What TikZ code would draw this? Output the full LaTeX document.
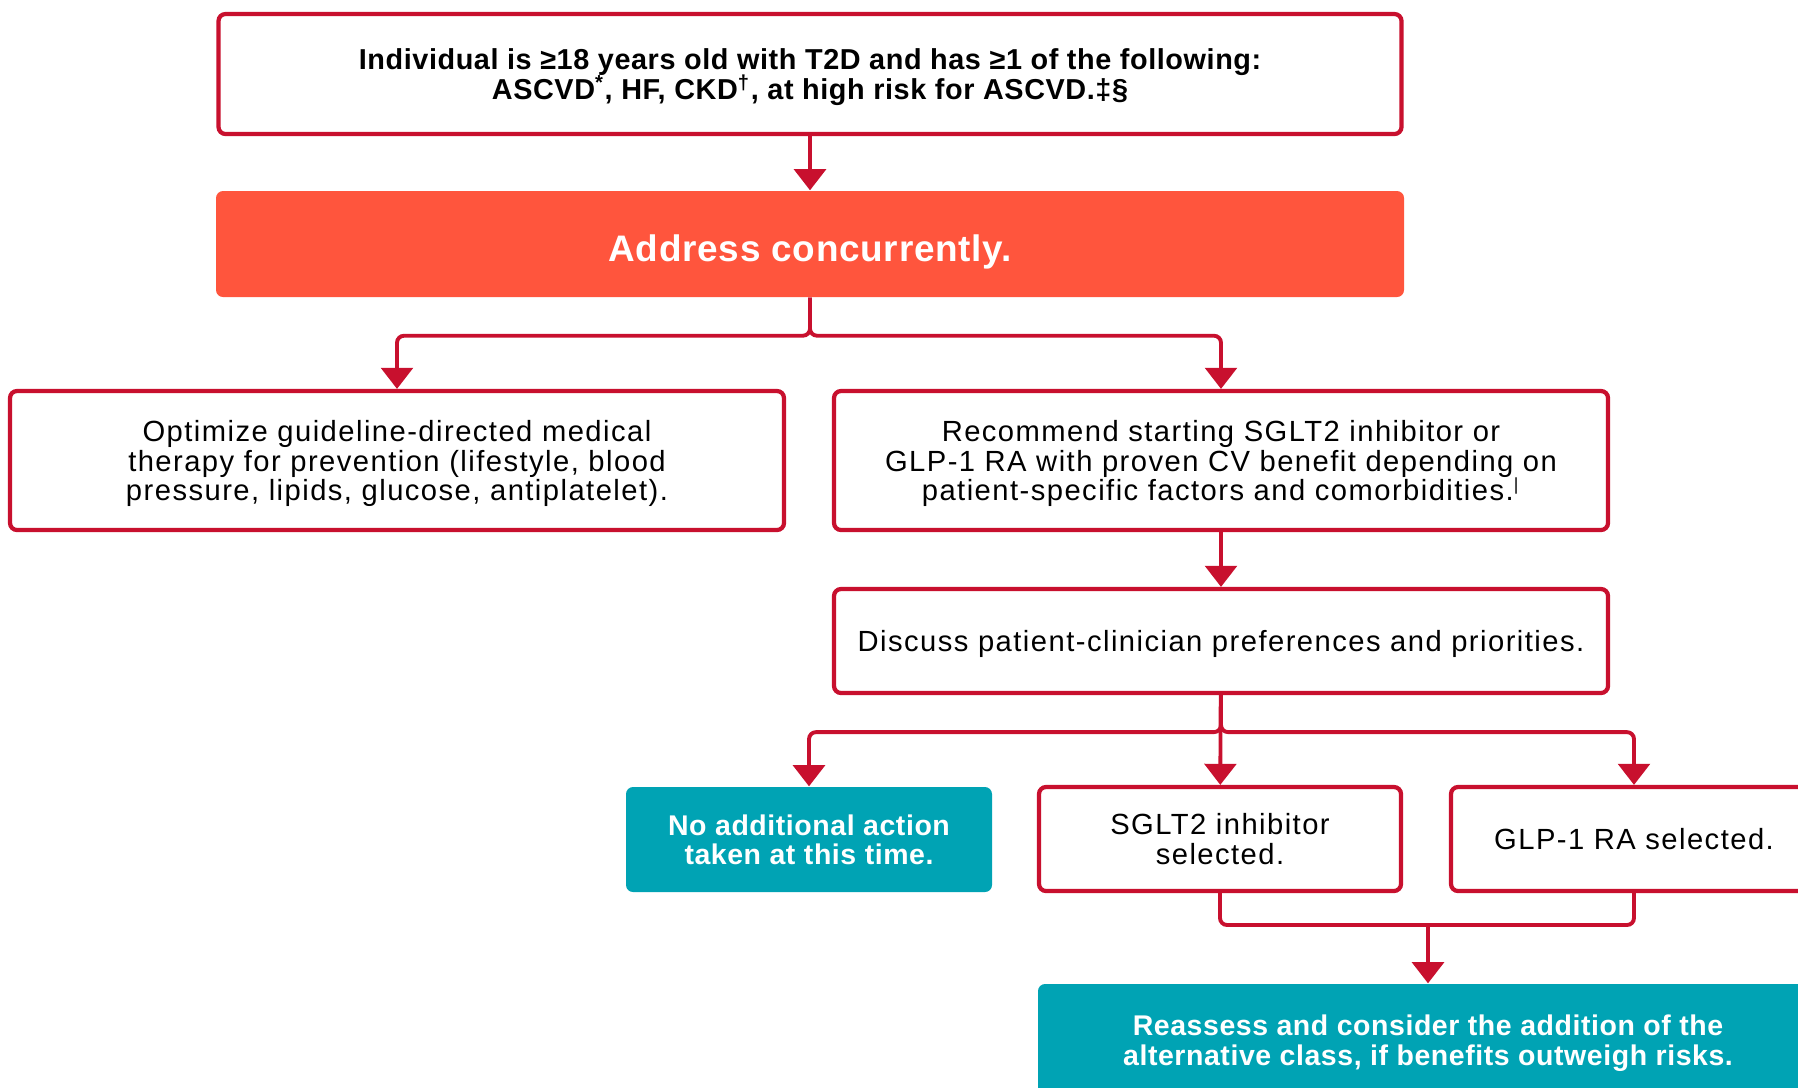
\documentclass[tikz,border=0pt]{standalone}
\usepackage{fontspec}
\setmainfont{Liberation Sans}[LetterSpace=2]
\usepackage{tikz}
\usetikzlibrary{arrows.meta}

\definecolor{adared}{HTML}{C8102E}
\definecolor{adaorange}{HTML}{FF553D}
\definecolor{adateal}{HTML}{00A3B4}
\newcommand{\tightlines}{\lineskiplimit -5pt\relax\lineskip 0pt\relax}

\tikzset{
	stepbox/.style={draw=adared, line width=1.2pt, rounded corners=2pt, fill=white,
		align=center, font=\fontsize{8.3}{8.4}\selectfont\addfontfeature{LetterSpace=5},
		inner sep=2pt, text depth=-0.5pt},
	redbox/.style={fill=adaorange, rounded corners=2pt, align=center, text=white,
		font=\fontsize{10.5}{12}\selectfont\bfseries, text height=10pt, text depth=0pt},
	tealbox/.style={fill=adateal, rounded corners=2pt, align=center, text=white,
		font=\fontsize{8.1}{8.4}\selectfont\bfseries, text depth=-0.5pt},
	arr/.style={color=adared, line width=1.1pt, rounded corners=2pt,
		-{Triangle[width=9pt,length=6pt]}},
	link/.style={color=adared, line width=1.1pt, rounded corners=2pt}
}

\begin{document}
\begin{tikzpicture}
	\useasboundingbox (0,0) rectangle (17.98,-10.87);
	\node[stepbox, minimum width=11.83cm, minimum height=1.20cm, text depth=-1.5pt,
		font={\fontsize{8.2}{8.3}\selectfont\bfseries\tightlines}] (top) at (8.10cm,-0.74cm)
		{Individual is ≥18 years old with T2D and has ≥1 of the following:\\ASCVD\textsuperscript{*}, HF, CKD\textsuperscript{†}, at high risk for ASCVD.‡§};
	\node[redbox, minimum width=11.88cm, minimum height=1.06cm] (addr) at (8.10cm,-2.44cm) {Address concurrently.};
	\node[stepbox, minimum width=7.74cm, minimum height=1.39cm] (optim) at (3.97cm,-4.605cm)
		{Optimize guideline-directed medical\\therapy for prevention (lifestyle, blood\\pressure, lipids, glucose, antiplatelet).};
	\node[stepbox, minimum width=7.74cm, minimum height=1.39cm] (recom) at (12.21cm,-4.605cm)
		{Recommend starting SGLT2 inhibitor or\\GLP-1 RA with proven CV benefit depending on\\patient-specific factors and comorbidities.\textsuperscript{\tiny|}};
	\node[stepbox, minimum width=7.74cm, minimum height=1.04cm] (disc) at (12.21cm,-6.41cm)
		{Discuss patient-clinician preferences and priorities.};
	\node[tealbox, minimum width=3.66cm, minimum height=1.05cm] (noact) at (8.09cm,-8.395cm)
		{No additional action\\taken at this time.};
	\node[stepbox, minimum width=3.62cm, minimum height=1.04cm] (sglt) at (12.20cm,-8.39cm)
		{SGLT2 inhibitor\\selected.};
	\node[stepbox, minimum width=3.66cm, minimum height=1.04cm] (glp) at (16.34cm,-8.39cm)
		{GLP-1 RA selected.};
	\node[tealbox, minimum width=7.80cm, minimum height=1.12cm] (reass) at (14.28cm,-10.40cm)
		{Reassess and consider the addition of the\\alternative class, if benefits outweigh risks.};
	\coordinate (merge) at (14.28cm,-9.25cm);

	\draw [arr] (top) -- (addr);
	\draw [arr] (addr.south) -- ++(0,-0.38) -| (optim.north);
	\draw [arr] (addr.south) -- ++(0,-0.38) -| (recom.north);

	\draw [arr] (recom) -- (disc);

	\draw [arr] (disc.south) -- ++(0,-0.37) -| (noact.north);
	\draw [arr] (disc) -- (sglt);
	\draw [arr] (disc.south) -- ++(0,-0.37) -| (glp.north);

	\draw [link] (sglt.south) |- (merge) -| (glp.south);
	\draw [arr] (merge) -- (reass);
\end{tikzpicture}
\end{document}
